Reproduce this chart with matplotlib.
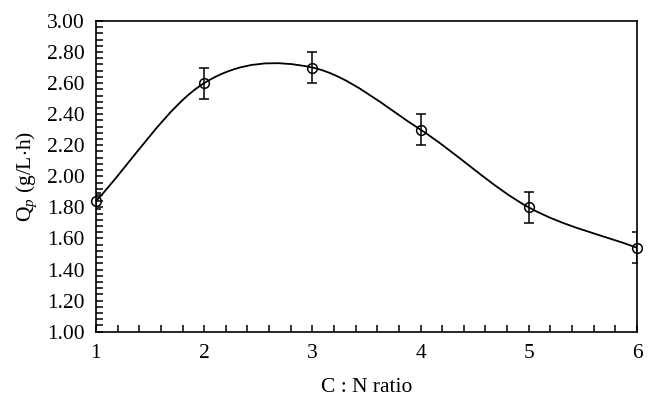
import numpy as np
from matplotlib import pyplot as plt
from matplotlib.path import Path
from matplotlib.patches import PathPatch
from matplotlib.ticker import MultipleLocator, FormatStrFormatter

# C:N ratio vs productivity
cn_ratio = [1, 2, 3, 4, 5, 6]
qp = [1.84, 2.60, 2.70, 2.30, 1.80, 1.54]
qp_err = [0.05, 0.10, 0.10, 0.10, 0.10, 0.10]

plt.rcParams['font.family'] = ['Liberation Serif', 'DejaVu Serif']
plt.rcParams['mathtext.fontset'] = 'custom'
plt.rcParams['mathtext.rm'] = 'Liberation Serif'
plt.rcParams['mathtext.it'] = 'Liberation Serif:italic'

fig = plt.figure(figsize=(6.56, 4.03), dpi=100)
ax = fig.add_axes([0.1463, 0.177, 0.8247, 0.771])

# smooth line (Catmull-Rom tangents -> cubic bezier segments)
x = np.array(cn_ratio, dtype=float)
y = np.array(qp, dtype=float)
m = np.gradient(y, x)
verts = [(x[0], y[0])]
codes = [Path.MOVETO]
for i in range(len(x) - 1):
    d = (x[i + 1] - x[i]) / 3.0
    verts += [(x[i] + d, y[i] + m[i] * d),
              (x[i + 1] - d, y[i + 1] - m[i + 1] * d),
              (x[i + 1], y[i + 1])]
    codes += [Path.CURVE4] * 3
ax.add_patch(PathPatch(Path(verts, codes), facecolor='none',
                       edgecolor='black', lw=1.3))

pts, caps, bars = ax.errorbar(cn_ratio, qp, yerr=qp_err, fmt='o', mfc='none',
                              mec='black', ms=7, mew=1.1, ecolor='black',
                              elinewidth=1.1, capsize=3.5, capthick=1.1)
pts.set_clip_on(False)

ax.set_xlim(1, 6)
ax.set_ylim(1.0, 3.0)
ax.xaxis.set_major_locator(MultipleLocator(1))
ax.xaxis.set_minor_locator(MultipleLocator(0.2))
ax.yaxis.set_major_locator(MultipleLocator(0.2))
ax.yaxis.set_minor_locator(MultipleLocator(0.04))
ax.yaxis.set_major_formatter(FormatStrFormatter('%.2f'))
ax.tick_params(which='both', direction='in', top=False, right=False,
               labelsize=15.5, width=1.1)
ax.tick_params(which='major', length=5)
ax.tick_params(which='minor', length=5)
ax.tick_params(axis='x', which='major', pad=9)
ax.tick_params(axis='y', which='major', pad=8)
for s in ax.spines.values():
    s.set_linewidth(1.2)

ax.set_xlabel('C : N ratio', fontsize=15.5, labelpad=11)
ax.set_ylabel(r'Q$_{\mathit{p}}$ (g/L$\cdot$h)', fontsize=15.5, labelpad=6)

plt.savefig('out.png', dpi=100)
